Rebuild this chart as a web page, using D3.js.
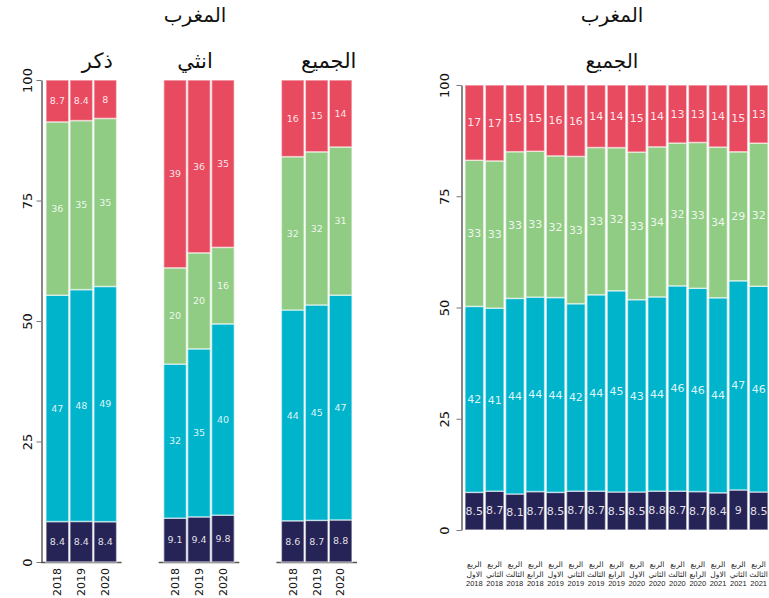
<!DOCTYPE html>
<html>
<head>
<meta charset="utf-8">
<script src="https://cdn.jsdelivr.net/npm/d3@7"></script>
<style>
  body { margin: 0; background: #fff; }
  svg { display: block; }
  .ttl { font-family: "Liberation Serif", "DejaVu Sans", serif; fill: #111; }
  .val { font-family: "DejaVu Sans", sans-serif; fill: #fff; fill-opacity: 0.88; }
  .tick text { font-family: "DejaVu Sans", sans-serif; fill: #111; }
</style>
</head>
<body>
<div id="chart"></div>
<script>
// stack order, bottom to top
var keys = ["a", "b", "c", "d"];
var colors = ["#262356", "#00b4cc", "#90cc84", "#e84a5f"];

// left chart: facets by sex, years
var facets = ["ذكر", "انثي", "الجميع"];
var years = ["2018", "2019", "2020"];
var maleA = [8.4, 8.4, 8.4], maleB = [47, 48, 49], maleC = [36, 35, 35], maleD = [8.7, 8.4, 8];
var femA = [9.1, 9.4, 9.8], femB = [32, 35, 40], femC = [20, 20, 16], femD = [39, 36, 35];
var allA = [8.6, 8.7, 8.8], allB = [44, 45, 47], allC = [32, 32, 31], allD = [16, 15, 14];

// right chart: quarters
var quarters = ["الربع|الاول|2018", "الربع|الثاني|2018", "الربع|الثالث|2018", "الربع|الرابع|2018",
  "الربع|الاول|2019", "الربع|الثاني|2019", "الربع|الثالث|2019", "الربع|الرابع|2019",
  "الربع|الاول|2020", "الربع|الثاني|2020", "الربع|الثالث|2020", "الربع|الرابع|2020",
  "الربع|الاول|2021", "الربع|الثاني|2021", "الربع|الثالث|2021"];
var qA = [8.5, 8.7, 8.1, 8.7, 8.5, 8.7, 8.7, 8.5, 8.5, 8.8, 8.7, 8.7, 8.4, 9, 8.5];
var qB = [42, 41, 44, 44, 44, 42, 44, 45, 43, 44, 46, 46, 44, 47, 46];
var qC = [33, 33, 33, 33, 32, 33, 33, 32, 33, 34, 32, 33, 34, 29, 32];
var qD = [17, 17, 15, 15, 16, 16, 14, 14, 15, 14, 13, 13, 14, 15, 13];

var yTicks = [0, 25, 50, 75, 100];

function rows(cats, A, B, C, D) {
  return cats.map(function(c, i) {
    return {cat: c, a: A[i], b: B[i], c: C[i], d: D[i]};
  });
}

var stack = d3.stack().keys(keys).offset(d3.stackOffsetExpand);

var svg = d3.select("#chart").append("svg")
  .attr("width", 769).attr("height", 598);

// ---------- left chart ----------
var yL = d3.scaleLinear().domain([0, 1]).range([562, 80]);
var fx = d3.scaleBand().domain(facets).range([46, 352]).paddingInner(0.4);
var bx = d3.scaleBand().domain(years).range([0, fx.bandwidth()]).paddingInner(0.05);

var facetData = {
  "ذكر": rows(years, maleA, maleB, maleC, maleD),
  "انثي": rows(years, femA, femB, femC, femD),
  "الجميع": rows(years, allA, allB, allC, allD)
};
var titleShift = {"ذكر": 16, "انثي": -4, "الجميع": 12};

svg.append("text").attr("class", "ttl")
  .attr("x", 195).attr("y", 22)
  .attr("text-anchor", "middle").style("font-size", "20px")
  .text("المغرب");

facets.forEach(function(f) {
  var g = svg.append("g").attr("transform", "translate(" + fx(f) + ",0)");
  var series = stack(facetData[f]);

  // baseline
  g.append("line")
    .attr("x1", -5).attr("x2", fx.bandwidth() + 5)
    .attr("y1", 562.5).attr("y2", 562.5)
    .attr("stroke", "#555").attr("stroke-width", 1.5);

  series.forEach(function(s, k) {
    g.selectAll(null).data(s).enter().append("rect")
      .attr("x", function(d) { return bx(d.data.cat); })
      .attr("width", bx.bandwidth())
      .attr("y", function(d) { return yL(d[1]); })
      .attr("height", function(d) { return yL(d[0]) - yL(d[1]); })
      .attr("fill", colors[k])
      .attr("stroke", "#fff").attr("stroke-opacity", 0.55).attr("stroke-width", 1.5);

    g.selectAll(null).data(s).enter().append("text")
      .attr("class", "val")
      .attr("x", function(d) { return bx(d.data.cat) + bx.bandwidth() / 2; })
      .attr("y", function(d) { return (yL(d[0]) + yL(d[1])) / 2; })
      .attr("dy", "0.35em")
      .attr("text-anchor", "middle").style("font-size", "9.5px")
      .text(function(d) { return d.data[keys[k]]; });
  });

  // year labels
  g.selectAll(null).data(years).enter().append("text")
    .attr("transform", function(d) {
      return "translate(" + (bx(d) + bx.bandwidth() / 2) + ",568) rotate(-90)";
    })
    .attr("dy", "0.35em").attr("text-anchor", "end")
    .style("font-family", "DejaVu Sans, sans-serif").style("font-size", "11px")
    .attr("fill", "#111")
    .text(function(d) { return d; });

  g.append("text").attr("class", "ttl")
    .attr("x", fx.bandwidth() / 2 + titleShift[f]).attr("y", 68)
    .attr("text-anchor", "middle").style("font-size", "21px")
    .text(f);
});

var axL = svg.append("g").attr("transform", "translate(41.5,0)")
  .call(d3.axisLeft(yL).tickValues(yTicks.map(function(t) { return t / 100; }))
    .tickFormat(function(d) { return Math.round(d * 100); }).tickSize(5).tickSizeOuter(0));
axL.select(".domain").attr("stroke", "#111");
axL.selectAll(".tick line").attr("stroke", "#777");
axL.selectAll(".tick text")
  .attr("transform", "translate(-14,0) rotate(-90)")
  .attr("x", 0).attr("dy", "0.35em").attr("text-anchor", "middle")
  .style("font-size", "13px");

// ---------- right chart ----------
var yR = d3.scaleLinear().domain([0, 1]).range([530, 85]);
var xR = d3.scaleBand().domain(quarters).range([465, 768]).paddingInner(0.08);
var qSeries = stack(rows(quarters, qA, qB, qC, qD));

svg.append("text").attr("class", "ttl")
  .attr("x", 612).attr("y", 22)
  .attr("text-anchor", "middle").style("font-size", "20px")
  .text("المغرب");
svg.append("text").attr("class", "ttl")
  .attr("x", 612).attr("y", 68)
  .attr("text-anchor", "middle").style("font-size", "20px")
  .text("الجميع");

qSeries.forEach(function(s, k) {
  svg.selectAll(null).data(s).enter().append("rect")
    .attr("x", function(d) { return xR(d.data.cat); })
    .attr("width", xR.bandwidth())
    .attr("y", function(d) { return yR(d[1]); })
    .attr("height", function(d) { return yR(d[0]) - yR(d[1]); })
    .attr("fill", colors[k])
    .attr("stroke", "#fff").attr("stroke-opacity", 0.55).attr("stroke-width", 1.5);

  svg.selectAll(null).data(s).enter().append("text")
    .attr("class", "val")
    .attr("x", function(d) { return xR(d.data.cat) + xR.bandwidth() / 2; })
    .attr("y", function(d) { return (yR(d[0]) + yR(d[1])) / 2; })
    .attr("dy", "0.35em")
    .attr("text-anchor", "middle").style("font-size", "11px")
    .text(function(d) { return d.data[keys[k]]; });
});

// quarter labels, three lines each
var ql = svg.selectAll(null).data(quarters).enter().append("text")
  .attr("text-anchor", "middle")
  .style("font-family", "Liberation Sans, DejaVu Sans, sans-serif").style("font-size", "7.5px")
  .attr("fill", "#222");
ql.selectAll("tspan").data(function(d) { return d.split("|").map(function(p) { return [d, p]; }); })
  .enter().append("tspan")
  .attr("x", function(d) { return xR(d[0]) + xR.bandwidth() / 2; })
  .attr("y", function(d, i) { return 567 + i * 9.5; })
  .text(function(d) { return d[1]; });

var axR = svg.append("g").attr("transform", "translate(461.5,0)")
  .call(d3.axisLeft(yR).tickValues(yTicks.map(function(t) { return t / 100; }))
    .tickFormat(function(d) { return Math.round(d * 100); }).tickSize(5).tickSizeOuter(0));
axR.select(".domain").attr("stroke", "#111");
axR.selectAll(".tick line").attr("stroke", "#777");
axR.selectAll(".tick text")
  .attr("transform", "translate(-17,0) rotate(-90)")
  .attr("x", 0).attr("dy", "0.35em").attr("text-anchor", "middle")
  .style("font-size", "13px");
</script>
</body>
</html>
